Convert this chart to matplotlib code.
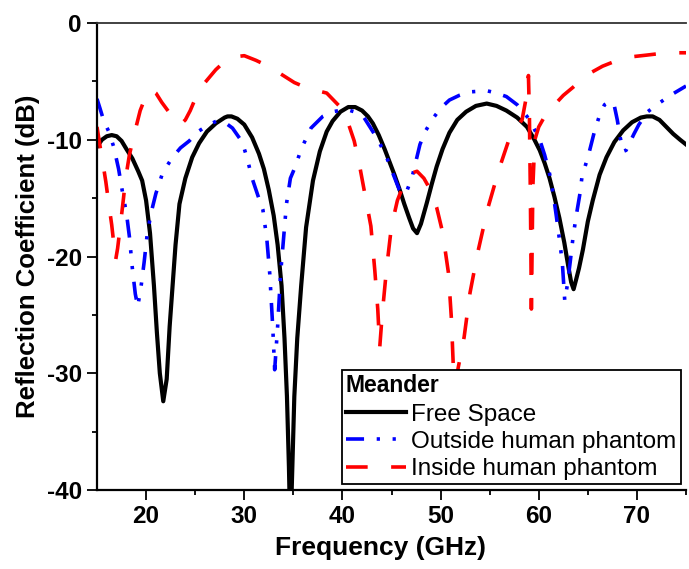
import numpy as np
import matplotlib
matplotlib.use("Agg")
import matplotlib.pyplot as plt

plt.rcParams['font.family'] = ['Liberation Sans', 'DejaVu Sans']
plt.rcParams['axes.unicode_minus'] = False

# Free Space
f_free = [15.0, 15.5, 16.0, 16.5, 17.0, 17.5, 18.0, 18.6, 19.2, 19.6, 20.0, 20.4, 20.8,
          21.1, 21.4, 21.75, 22.1, 22.4, 22.7, 23.0, 23.4, 24.0, 24.7, 25.4, 26.2, 27.1,
          28.0, 28.3, 28.7, 29.3, 30.0, 30.8, 31.5, 32.0, 32.5, 33.0, 33.4, 33.8, 34.1,
          34.35, 34.55, 34.7, 34.9, 35.1, 35.4, 35.8, 36.3, 37.0, 37.7, 38.4, 39.0, 39.8,
          40.6, 41.3, 42.0, 42.6, 43.1, 43.7, 44.3, 44.8, 45.3, 45.8, 46.3, 46.8, 47.2,
          47.6, 48.0, 48.3, 48.6, 49.1, 49.6, 50.2, 50.9, 51.7, 52.6, 53.6, 54.7, 55.7,
          56.7, 57.8, 58.8, 59.5, 60.1, 60.6, 61.1, 61.6, 62.1, 62.6, 63.0, 63.3, 63.55,
          63.8, 64.1, 64.5, 65.0, 65.5, 66.2, 66.9, 67.7, 68.6, 69.5, 70.4, 71.0, 71.6,
          72.3, 73.0, 73.7, 74.4, 75.0]
db_free = [-10.6, -10.0, -9.7, -9.6, -9.7, -10.1, -10.8, -11.6, -12.7, -13.5, -15.2, -18.0,
           -22.5, -26.5, -30.0, -32.4, -30.5, -26.0, -22.5, -19.0, -15.5, -13.3, -11.5,
           -10.3, -9.3, -8.6, -8.1, -8.0, -8.0, -8.2, -8.7, -9.8, -11.2, -12.5, -14.3, -16.5,
           -19.0, -22.5, -27.0, -32.0, -38.0, -44.0, -38.0, -32.0, -27.0, -22.5, -17.5,
           -13.5, -11.0, -9.3, -8.4, -7.6, -7.2, -7.2, -7.5, -8.0, -8.6, -9.6, -10.8, -11.9,
           -13.0, -14.2, -15.5, -16.7, -17.6, -18.0, -17.2, -16.3, -15.4, -13.8, -12.3,
           -10.8, -9.4, -8.3, -7.6, -7.1, -6.9, -7.1, -7.5, -8.1, -8.9, -9.9, -10.9, -12.0,
           -13.3, -14.9, -16.7, -18.8, -20.8, -22.2, -22.8, -22.0, -21.0, -19.4, -17.0,
           -15.2, -13.0, -11.5, -10.2, -9.2, -8.5, -8.1, -8.0, -8.0, -8.3, -8.9, -9.5,
           -10.0, -10.4]

# Outside human phantom
f_out = [15.0, 15.3, 15.7, 16.2, 16.7, 17.2, 17.6, 18.0, 18.3, 18.6, 18.9, 19.15, 19.5,
         19.8, 20.1, 20.5, 21.0, 21.7, 22.7, 23.5, 24.4, 25.3, 26.4, 27.2, 28.0, 28.8,
         29.8, 30.3, 30.8, 31.4, 31.9, 32.3, 32.6, 32.9, 33.1, 33.4, 33.7, 34.0, 34.3,
         34.7, 35.2, 35.8, 36.8, 38.0, 39.0, 40.4, 41.2, 42.2, 43.1, 43.8, 44.5, 45.2,
         45.8, 46.2, 46.6, 47.1, 47.5, 47.9, 48.5, 49.2, 50.0, 50.9, 51.9, 53.0, 54.7,
         55.7, 56.7, 57.8, 58.8, 59.5, 60.1, 60.6, 61.1, 61.5, 61.8, 62.1, 62.4, 62.65,
         62.9, 63.2, 63.5, 63.8, 64.2, 64.4, 65.1, 65.7, 66.2, 66.7, 67.3, 67.7, 68.0,
         68.3, 68.6, 68.9, 69.3, 69.7, 70.2, 71.1, 72.2, 73.4, 74.2, 75.0]
db_out = [-6.5, -7.3, -8.4, -9.3, -10.6, -12.5, -14.5, -16.3, -18.3, -21.0, -23.2, -24.3,
          -22.5, -20.5, -18.2, -16.3, -14.6, -12.8, -11.5, -10.7, -10.1, -9.3, -8.7, -8.4,
          -8.5, -9.0, -10.2, -11.6, -13.3, -14.8, -16.0, -18.5, -21.5, -26.0, -29.7, -26.0,
          -21.5, -18.5, -15.5, -13.3, -12.3, -10.8, -9.0, -8.0, -7.6, -7.4, -7.6, -8.1,
          -9.3, -10.3, -11.5, -13.0, -14.3, -14.7, -14.3, -13.2, -11.8, -10.4, -9.2, -8.2,
          -7.3, -6.6, -6.2, -5.9, -5.8, -6.0, -6.3, -7.0, -8.0, -9.0, -10.0, -11.3, -12.9,
          -14.8, -16.6, -18.5, -20.5, -23.8, -22.5, -20.5, -18.3, -16.6, -14.6, -13.2,
          -11.2, -9.2, -7.9, -7.0, -6.7, -7.1, -8.3, -9.8, -11.0, -10.9, -10.2, -9.5,
          -8.7, -7.6, -6.9, -6.2, -5.8, -5.4]

# Inside human phantom
f_in = [15.0, 15.3, 15.6, 15.9, 16.2, 16.5, 16.75, 16.9, 17.1, 17.4, 17.7, 17.9, 18.3,
        18.8, 19.4, 20.0, 20.5, 21.0, 21.6, 22.3, 22.9, 23.5, 24.0, 24.5, 25.2, 26.0,
        27.1, 28.0, 29.0, 30.0, 31.2, 32.2, 33.6, 35.1, 36.5, 38.4, 39.9, 40.6, 41.2,
        41.7, 42.1, 42.5, 42.9, 43.3, 43.6, 43.8, 44.05, 44.5, 45.0, 45.6, 46.2, 46.9,
        47.6, 48.3, 48.9, 49.6, 50.2, 50.8, 51.1, 51.3, 51.5, 51.8, 52.4, 53.0, 53.8,
        54.8, 56.0, 57.0, 57.7, 58.3, 58.7, 58.95, 59.05, 59.15, 59.25, 59.4, 59.6, 60.0,
        60.6, 61.5, 62.5, 63.5, 65.0, 66.5, 68.0, 69.4, 71.0, 72.5, 73.5, 75.0]
db_in = [-8.9, -10.5, -12.0, -13.6, -15.5, -17.3, -19.2, -20.3, -19.3, -17.2, -15.0, -13.4,
         -11.3, -9.5, -7.5, -6.2, -5.7, -6.0, -6.8, -7.6, -8.4, -8.7, -8.3, -7.5, -6.1,
         -5.1, -4.0, -3.3, -2.9, -2.8, -3.2, -3.6, -4.3, -5.1, -5.6, -6.0, -7.3, -8.6,
         -10.1, -12.0, -13.8, -15.6, -17.4, -21.2, -24.5, -27.8, -25.0, -21.0, -17.4, -15.2,
         -13.9, -12.9, -12.7, -13.3, -14.2, -15.8, -17.9, -21.4, -25.3, -29.5, -31.0,
         -29.5, -26.9, -23.1, -19.6, -15.9, -12.4, -9.9, -9.0, -8.3, -6.5, -4.5, -8.0,
         -15.0, -24.5, -14.0, -10.0, -8.9, -8.0, -7.1, -6.2, -5.5, -4.4, -3.7, -3.2, -2.9,
         -2.75, -2.6, -2.55, -2.55]

x_ticks = [20, 30, 40, 50, 60, 70]
y_ticks = [0, -10, -20, -30, -40]

fig = plt.figure(figsize=(6.89, 5.69), dpi=100)
ax = fig.add_axes([97 / 689, 1 - 490 / 569, 589 / 689, 467 / 569])

ax.plot(f_free, db_free, color='black', lw=3.0, label='Free Space')
ax.plot(f_out, db_out, color='blue', lw=2.6, dashes=(5, 3.5, 0.9, 3.5, 0.9, 3.5),
        label='Outside human phantom')
ax.plot(f_in, db_in, color='red', lw=2.6, dashes=(6, 6.5), label='Inside human phantom')

ax.set_xlim(15, 75)
ax.set_ylim(-40, 0)
ax.set_xticks(x_ticks)
ax.set_yticks(y_ticks)
ax.set_xticks([25, 35, 45, 55, 65, 75], minor=True)
ax.set_yticks([-5, -15, -25, -35], minor=True)
ax.tick_params(which='major', direction='out', length=7, width=1.3, labelsize=17.5, pad=4)
ax.tick_params(which='minor', direction='out', length=3.6, width=1.3)
for lab in ax.get_xticklabels() + ax.get_yticklabels():
    lab.set_fontweight('bold')

ax.spines['right'].set_visible(False)
ax.spines['left'].set_linewidth(1.6)
ax.spines['bottom'].set_linewidth(1.6)
ax.spines['top'].set_linewidth(1.3)
ax.spines['top'].set_color('#333333')

ax.set_xlabel('Frequency (GHz)', fontsize=19, fontweight='bold')
ax.xaxis.set_label_coords(0.482, -0.098)
ax.set_ylabel('Reflection Coefficient (dB)', fontsize=18.5, fontweight='bold', labelpad=5)

leg = ax.legend(loc='lower left', bbox_to_anchor=(0.416, 0.013, 0.5755, 0.26),
                mode='expand', borderaxespad=0, fontsize=17.5, title='Meander',
                title_fontproperties={'weight': 'bold', 'size': 16.5},
                alignment='left', fancybox=False, edgecolor='black', framealpha=1,
                handlelength=2.5, handletextpad=0.2, borderpad=0.15, labelspacing=0.22)
leg.get_frame().set_linewidth(1.3)
leg._legend_box.sep = 5

fig.savefig('out.png', dpi=100)
